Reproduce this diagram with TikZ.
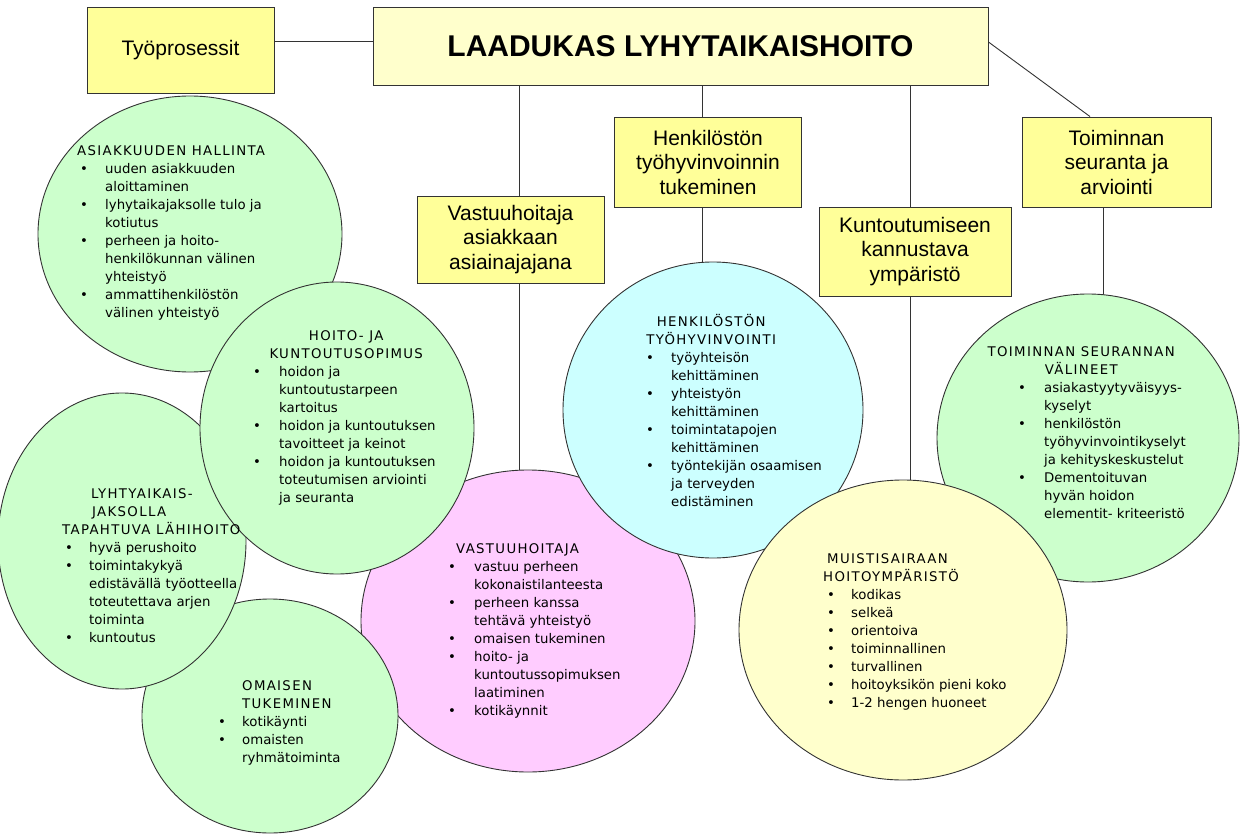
\documentclass[tikz,border=0pt]{standalone}
\usepackage{fontspec}
\setmainfont{Liberation Sans}
\newfontfamily\circfont{DejaVu Sans}
\newfontfamily\captfont[LetterSpace=10]{DejaVu Sans}
\usetikzlibrary{shapes.geometric}
\pgfdeclarelayer{bg}
\pgfsetlayers{bg,main}

\definecolor{boxyellow}{RGB}{255,255,153}
\definecolor{paleyellow}{RGB}{255,255,204}
\definecolor{palegreen}{RGB}{204,255,204}
\definecolor{palepink}{RGB}{255,204,255}
\definecolor{palecyan}{RGB}{204,255,255}
\definecolor{edgegray}{RGB}{51,51,51}

\newcommand{\bl}{\textbullet}
% otsikkorivi: siirto vasemmalta / keskitys annettuun kohtaan
\newcommand{\ttl}[2]{\multicolumn{2}{@{\hspace{#1}}l@{}}{\captfont #2}}
\newcommand{\ctl}[2]{\multicolumn{2}{@{}l@{}}{\hspace{#1}\makebox[0pt]{\captfont #2}}}

\begin{document}
\begin{tikzpicture}[x=1pt,y=-1pt]
    % --- tyylit ---
    \tikzstyle{topbox}=[rectangle, draw=edgegray, line width=0.9pt, fill=boxyellow, inner sep=0pt, align=center, minimum width=187pt, minimum height=88pt, font=\fontsize{21}{24.5}\selectfont]
    \tikzstyle{bubble}=[ellipse, draw=edgegray, line width=0.9pt, inner sep=0pt]
    \tikzstyle{bubbletext}=[anchor=base west, inner sep=0pt, font=\circfont\fontsize{13.3}{18}\selectfont]
    \tikzstyle{link}=[draw=edgegray, line width=0.9pt]

    \useasboundingbox (0,0) rectangle (1241,834);

    % ====== ylärivin laatikot ======
    \node[topbox, minimum height=86pt] (tyo) at (180.5,50) {Työprosessit};
    \node[topbox, fill=paleyellow, minimum width=615pt, minimum height=78pt, font=\fontsize{30}{36}\selectfont\bfseries] (main) at (680.5,46) {LAADUKAS LYHYTAIKAISHOITO};
    \node[topbox, minimum height=87pt] (vast) at (510.5,239.5) {Vastuuhoitaja\\asiakkaan\\asiainajajana};
    \node[topbox, minimum height=90pt] (henk) at (708,162) {Henkilöstön\\työhyvinvoinnin\\tukeminen};
    \node[topbox, minimum width=192pt, minimum height=89pt] (kunt) at (915,251.5) {Kuntoutumiseen\\kannustava\\ympäristö};
    \node[topbox, minimum width=189pt, minimum height=90pt] (toim) at (1116.5,162) {Toiminnan\\seuranta ja\\arviointi};

    % ====== pallot (piirtojärjestys = päällekkäisyys) ======
    \node[bubble, fill=palegreen, minimum width=304pt, minimum height=276pt] (asiak) at (190,234) {};
    \node[bubble, fill=palepink, minimum width=334pt, minimum height=302pt] (vastc) at (528,621) {};
    \node[bubble, fill=palegreen, minimum width=256pt, minimum height=234pt] (omais) at (270,716) {};
    \node[bubble, fill=palegreen, minimum width=248pt, minimum height=296pt] (lyhyt) at (122,541) {};
    \node[bubble, fill=palegreen, minimum width=274pt, minimum height=292pt] (hoito) at (337,428) {};
    \node[bubble, fill=palecyan, minimum width=300pt, minimum height=296pt] (henkc) at (713,410) {};
    \node[bubble, fill=palegreen, minimum width=302pt, minimum height=288pt] (toimc) at (1088,438) {};
    \node[bubble, fill=paleyellow, minimum width=328pt, minimum height=300pt] (muist) at (903,630) {};

    % ====== pallojen tekstit ======
    \node[bubbletext] (asiakt) at (80,156) {\begin{tabular}[t]{@{}p{25pt}@{}l@{}}
        \ttl{-3pt}{ASIAKKUUDEN HALLINTA}\\
        \bl & uuden asiakkuuden\\
            & aloittaminen\\
        \bl & lyhytaikajaksolle tulo ja\\
            & kotiutus\\
        \bl & perheen ja hoito-\\
            & henkilökunnan välinen\\
            & yhteistyö\\
        \bl & ammattihenkilöstön\\
            & välinen yhteistyö
    \end{tabular}};

    \node[bubbletext] (hoitot) at (253,340) {\begin{tabular}[t]{@{}p{26pt}@{}l@{}}
        \ctl{93pt}{HOITO- JA}\\
        \ctl{93pt}{KUNTOUTUSOPIMUS}\\
        \bl & hoidon ja\\
            & kuntoutustarpeen\\
            & kartoitus\\
        \bl & hoidon ja kuntoutuksen\\
            & tavoitteet ja keinot\\
        \bl & hoidon ja kuntoutuksen\\
            & toteutumisen arviointi\\
            & ja seuranta
    \end{tabular}};

    \node[bubbletext] (lyhytt) at (65,498) {\begin{tabular}[t]{@{}p{24pt}@{}l@{}}
        \ttl{26pt}{LYHTYAIKAIS-}\\
        \ttl{27pt}{JAKSOLLA}\\
        \ttl{-3pt}{TAPAHTUVA LÄHIHOITO}\\
        \bl & hyvä perushoito\\
        \bl & toimintakykyä\\
            & edistävällä työotteella\\
            & toteutettava arjen\\
            & toiminta\\
        \bl & kuntoutus
    \end{tabular}};

    \node[bubbletext] (omaist) at (218,690) {\begin{tabular}[t]{@{}p{24pt}@{}l@{}}
            & {\captfont OMAISEN}\\
            & {\captfont TUKEMINEN}\\
        \bl & kotikäynti\\
        \bl & omaisten\\
            & ryhmätoiminta
    \end{tabular}};

    \node[bubbletext] (vastt) at (448,553) {\begin{tabular}[t]{@{}p{26pt}@{}l@{}}
        \ttl{8pt}{VASTUUHOITAJA}\\
        \bl & vastuu perheen\\
            & kokonaistilanteesta\\
        \bl & perheen kanssa\\
            & tehtävä yhteistyö\\
        \bl & omaisen tukeminen\\
        \bl & hoito- ja\\
            & kuntoutussopimuksen\\
            & laatiminen\\
        \bl & kotikäynnit
    \end{tabular}};

    \node[bubbletext] (henkt) at (646,326) {\begin{tabular}[t]{@{}p{25pt}@{}l@{}}
        \ctl{65pt}{HENKILÖSTÖN}\\
        \ctl{65pt}{TYÖHYVINVOINTI}\\
        \bl & työyhteisön\\
            & kehittäminen\\
        \bl & yhteistyön\\
            & kehittäminen\\
        \bl & toimintatapojen\\
            & kehittäminen\\
        \bl & työntekijän osaamisen\\
            & ja terveyden\\
            & edistäminen
    \end{tabular}};

    \node[bubbletext] (muistt) at (827,563) {\begin{tabular}[t]{@{}p{24pt}@{}l@{}}
        \ttl{0pt}{MUISTISAIRAAN}\\
        \ttl{-4pt}{HOITOYMPÄRISTÖ}\\
        \bl & kodikas\\
        \bl & selkeä\\
        \bl & orientoiva\\
        \bl & toiminnallinen\\
        \bl & turvallinen\\
        \bl & hoitoyksikön pieni koko\\
        \bl & 1-2 hengen huoneet
    \end{tabular}};

    \node[bubbletext] (toimt) at (1018,356) {\begin{tabular}[t]{@{}p{26pt}@{}l@{}}
        \ctl{63pt}{TOIMINNAN SEURANNAN}\\
        \ctl{63pt}{VÄLINEET}\\
        \bl & asiakastyytyväisyys-\\
            & kyselyt\\
        \bl & henkilöstön\\
            & työhyvinvointikyselyt\\
            & ja kehityskeskustelut\\
        \bl & Dementoituvan\\
            & hyvän hoidon\\
            & elementit- kriteeristö
    \end{tabular}};

    % ====== yhdysviivat (pallojen alle) ======
    \begin{pgfonlayer}{bg}
        \draw[link] ([yshift=9pt]tyo.east) -- ([yshift=5pt]main.west);
        \draw[link] ([yshift=4pt]main.east) -- ([xshift=-26.5pt]toim.north);
        \draw[link] ([xshift=8.5pt]vast.north) -- ([xshift=8.5pt]vast.north |- main.south);
        \draw[link] ([xshift=8.5pt]vast.south) -- ([xshift=8.5pt]vast.south |- vastc.center);
        \draw[link] ([xshift=-6pt]henk.north) -- ([xshift=-6pt]henk.north |- main.south);
        \draw[link] ([xshift=-6pt]henk.south) -- ([xshift=-6pt]henk.south |- henkc.center);
        \draw[link] ([xshift=-5pt]kunt.north) -- ([xshift=-5pt]kunt.north |- main.south);
        \draw[link] ([xshift=-5pt]kunt.south) -- ([xshift=-5pt]kunt.south |- muist.center);
        \draw[link] ([xshift=-13.5pt]toim.south) -- ([xshift=-13.5pt]toim.south |- toimc.center);
    \end{pgfonlayer}
\end{tikzpicture}
\end{document}
